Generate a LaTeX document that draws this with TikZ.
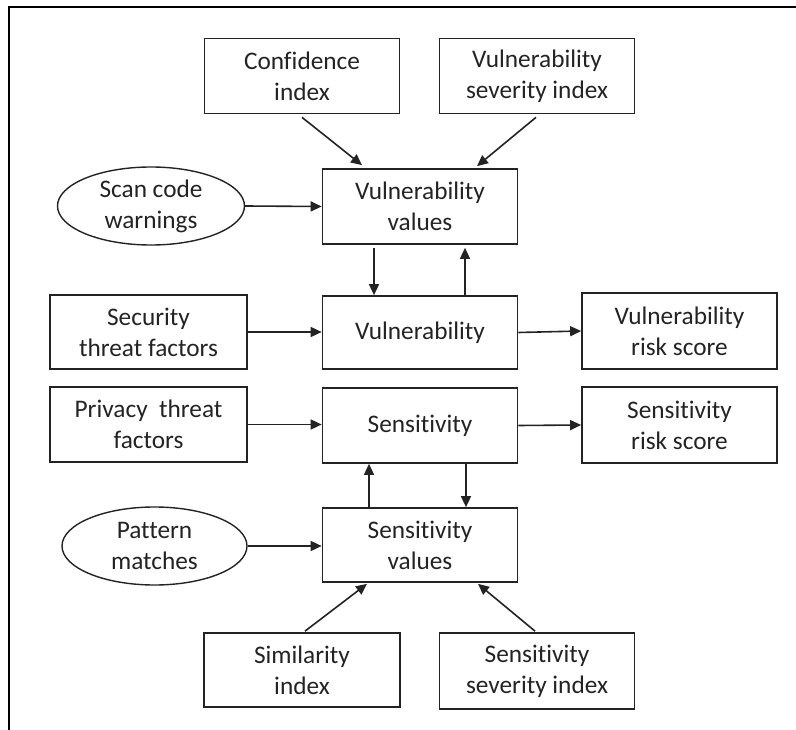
\documentclass[tikz,border=0pt]{standalone}
\usepackage{fontspec}
\setmainfont{Carlito}[RawFeature={-liga;-clig;-calt;-dlig}]
\usetikzlibrary{arrows.meta,shapes.geometric}
\definecolor{ink}{RGB}{35,35,35}
% "Sensitivity" set with the t and i kept apart
\newcommand{\sensword}{Sensit\kern0pt ivit\kern0pt y}
\begin{document}
\begin{tikzpicture}[x=1pt,y=-1pt,
  every node/.style={font=\fontsize{25.3}{31}\selectfont, text=ink, align=center, inner sep=0pt},
  box/.style={draw=ink, line width=1.7pt, rectangle, minimum width=195pt, minimum height=75pt},
  oval/.style={draw=ink, line width=1.4pt, ellipse, minimum width=187pt, minimum height=78pt},
  arr/.style={draw=ink, line width=1.6pt, -{Triangle[length=11pt,width=10pt]}},
  frame/.style={draw=black, line width=2.8pt}]
\useasboundingbox (0,0) rectangle (796,730);

% open frame: top and left edges only
\coordinate (fl) at (9,730);
\coordinate (fc) at (9,7);
\coordinate (fr) at (796,7);
\draw[frame] (fl) -- (fc) -- (fr);

% inputs to the vulnerability branch
\node[box] (conf) at (302,76) {Confidence\\index};
\node[box] (vsev) at (537,76) {Vulnerability\\severity index};
\node[oval] (scan) at (151,206) {Scan code\\warnings};
\node[box] (vval) at (420,206.5) {Vulnerability\\values};

% middle rows
\node[box, minimum width=197pt, minimum height=74pt] (sec) at (148.5,332) {Security\\threat factors};
\node[box, minimum height=73pt] (vul) at (420,332.5) {Vulnerability};
\node[box, minimum height=76pt] (vrisk) at (679.5,331) {Vulnerability\\risk score};
\node[box, minimum width=197pt] (priv) at (148.5,424.5) {Privacy~~threat\\factors};
\node[box] (sen) at (420,425.5) {\sensword};
\node[box, minimum height=76pt] (srisk) at (679.5,425) {\sensword\\risk score};

% inputs to the sensitivity branch
\node[oval, minimum width=185pt] (pat) at (154.5,546) {Pattern\\matches};
\node[box, minimum height=74pt] (sval) at (420,545) {\sensword\\values};
\node[box, minimum width=196pt, minimum height=74pt] (sim) at (302,670) {Similarity\\index};
\node[box, minimum height=76pt] (ssev) at (537,671) {\sensword\\severity index};

% connectors
\draw[arr] ([yshift=-3pt]conf.south) -- ([xshift=-58pt,yshift=3pt]vval.north);
\draw[arr] ([xshift=-1pt,yshift=-3pt]vsev.south) -- ([xshift=57pt,yshift=2pt]vval.north);
\draw[arr] (scan.east) -- (vval.west);
\draw[arr] ([xshift=-46pt,yshift=-3pt]vval.south) -- ([xshift=-46pt]vul.north);
\draw[arr] ([xshift=45pt]vul.north) -- ([xshift=45pt,yshift=-3pt]vval.south);
\draw[arr] (sec.east) -- (sec.east -| vul.west);
\draw[arr] (vul.east) -- (vrisk.west);
\draw[arr] (priv.east) -- (priv.east -| sen.west);
\draw[arr] (sen.east) -- (srisk.west);
\draw[arr] ([xshift=-51pt]sval.north) -- ([xshift=-51pt]sen.south);
\draw[arr] ([xshift=46pt]sen.south) -- ([xshift=46pt]sval.north);
\draw[arr] (pat.east) -- (pat.east -| sval.west);
\draw[arr] ([xshift=3pt,yshift=1pt]sim.north) -- ([xshift=-53pt,yshift=-1pt]sval.south);
\draw[arr] ([xshift=-2pt,yshift=1pt]ssev.north) -- ([xshift=58pt,yshift=-1pt]sval.south);
\end{tikzpicture}
\end{document}
